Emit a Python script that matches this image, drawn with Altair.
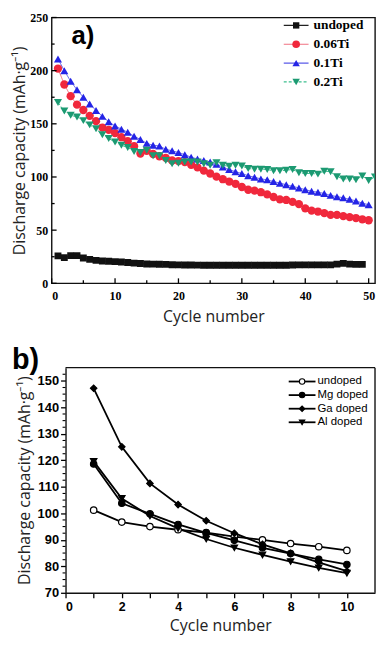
import altair as alt
import pandas as pd

# ---------------- Panel a data ----------------
names_a = ["undoped", "0.06Ti", "0.1Ti", "0.2Ti"]
cycles_undoped_a = list(range(1, 50))
undoped_a = [25.8, 24.2, 26.0, 26.0, 23.8, 22.5, 21.6, 21.0, 20.7, 20.4,
             20.0, 19.6, 19.0, 18.6, 18.2, 18.0, 17.9, 17.8, 17.5, 17.3,
             17.2, 17.2, 17.1, 17.0, 17.0, 17.0, 17.0, 17.0, 17.0, 17.0,
             17.0, 17.0, 17.0, 17.0, 17.0, 17.0, 17.0, 17.2, 17.3, 17.4,
             17.4, 17.4, 17.4, 17.4, 18.0, 18.8, 18.0, 17.8, 17.8]
cycles_006_a = list(range(1, 51))
ti006_a = [202, 187, 176, 168, 163, 157.5, 152.5, 146.5, 144.4, 141.3,
           137.4, 133.7, 129, 122, 124.5, 121.6, 119.5, 118, 115.5, 115,
           114, 111.5, 109, 106, 103.3, 100.3, 97.9, 95.7, 93.6, 90.6,
           88, 87.2, 85.7, 83.6, 81.2, 79, 78.4, 76.6, 74.5, 70.5,
           68.4, 67.5, 66, 64.4, 64.4, 63.2, 62.3, 61.4, 60.2, 59.3]
cycles_01_a = list(range(1, 51))
ti01_a = [211, 200, 190, 182, 175, 168.7, 162.6, 157, 152, 148,
          145, 142, 138.3, 135.3, 131.6, 129.8, 129.2, 126, 124.6, 123,
          121, 118.5, 117, 115.5, 114, 111.9, 109.4, 107, 104.9, 103.3,
          101.2, 99.7, 98.2, 97.3, 95.7, 94.2, 92.7, 91.2, 89.7, 88.1,
          86.6, 85.7, 84.5, 82.7, 81.5, 80.5, 79, 77.5, 75.4, 73.9]
cycles_02_a = list(range(1, 52))
ti02_a = [170, 162, 158, 156.5, 153, 149, 145.3, 139.8, 136.2, 132.8,
          129.8, 127.7, 124, 123, 125.2, 120, 120, 115.5, 112.5, 113,
          114, 114, 114, 112.5, 111, 113.4, 111, 110, 111, 110.3,
          108, 107.3, 107.3, 107, 105.8, 105.8, 106.4, 107, 104, 103.3,
          103.3, 102.7, 105.5, 104.9, 100.3, 98.2, 98.2, 97.3, 101, 96.7,
          100]

# ---------------- Panel b data ----------------
names_b = ["undoped", "Mg doped", "Ga doped", "Al doped"]
cycles_b = list(range(1, 11))
undoped_b = [101.2, 96.7, 95.0, 93.8, 92.7, 91.2, 90.0, 88.6, 87.4, 86.0]
mg_b = [118.6, 103.8, 99.8, 95.8, 92.6, 89.8, 87.0, 84.8, 82.6, 80.7]
ga_b = [147.2, 125.1, 111.3, 103.3, 97.2, 92.5, 88.3, 84.9, 81.5, 78.2]
al_b = [119.6, 105.6, 99.0, 94.3, 90.3, 87.0, 84.3, 81.8, 79.4, 77.4]

# ticks
xmajor_a = list(range(0, 60, 10))
xminor_a = list(range(5, 50, 10))
ymajor_a = list(range(0, 300, 50))
yminor_a = list(range(25, 250, 50))
ymajor_b = list(range(70, 160, 10))
yminor_b = [72.5, 75, 77.5, 82.5, 85, 87.5, 92.5, 95, 97.5, 102.5, 105, 107.5,
            112.5, 115, 117.5, 122.5, 125, 127.5, 132.5, 135, 137.5, 142.5, 145,
            147.5, 152.5]
xticks_b = list(range(0, 11, 1))

# styles
marker_colors_a = ["#111111", "#f0283c", "#2424e6", "#1c9a72"]
line_colors_a = ["#222222", "#f07080", "#5a5ae8", "#3cbf8e"]
line_dash_a = [[1, 0], [1, 0], [1, 0], [3, 2]]
shapes_a = ["square", "circle", "triangle-up", "triangle-down"]
sizes_a = [48, 70, 66, 66]
shapes_b = ["circle", "circle", "diamond", "triangle-down"]
fills_b = ["white", "black", "black", "black"]

YTITLE = "Discharge capacity (mAh\u00b7g\u207b\u00b9)"


def long_df(names, xs_list, ys_list):
    rows = []
    for n, xs, ys in zip(names, xs_list, ys_list):
        for x, y in zip(xs, ys):
            rows.append({"series": n, "cycle": x, "cap": y})
    return pd.DataFrame(rows)


df_a = long_df(names_a, [cycles_undoped_a, cycles_006_a, cycles_01_a, cycles_02_a],
               [undoped_a, ti006_a, ti01_a, ti02_a])
df_b = long_df(names_b, [cycles_b] * 4, [undoped_b, mg_b, ga_b, al_b])

# ---------------- Panel a ----------------
WA, HA = 326, 268
xa = alt.X("cycle:Q", scale=alt.Scale(domain=[0, 51], nice=False),
           axis=alt.Axis(title="Cycle number", values=xmajor_a, labelOverlap=False,
                         tickSize=0, domain=False, grid=False,
                         labelFont="Liberation Serif", labelFontWeight="bold",
                         labelFontSize=12, labelColor="black", labelPadding=7,
                         titleFont="Open Sans", titleFontSize=16,
                         titleFontWeight="normal", titleColor="#222222",
                         titlePadding=7))
ya = alt.Y("cap:Q", scale=alt.Scale(domain=[0, 250], nice=False),
           axis=alt.Axis(title=YTITLE, values=ymajor_a, labelOverlap=False,
                         tickSize=0, domain=False, grid=False,
                         labelFont="Liberation Serif", labelFontWeight="bold",
                         labelFontSize=12, labelColor="black", labelPadding=4,
                         titleFont="Open Sans", titleFontSize=16,
                         titleFontWeight="normal", titleColor="#222222",
                         titlePadding=2))

lines_a = []
points_a = []
for i, n in enumerate(names_a):
    sub = alt.Chart(df_a).transform_filter(alt.datum.series == n)
    lines_a.append(sub.mark_line(strokeWidth=1, color=line_colors_a[i],
                                 strokeDash=line_dash_a[i], clip=True).encode(x=xa, y=ya))
for i, n in enumerate(names_a):
    sub = alt.Chart(df_a).transform_filter(alt.datum.series == n)
    points_a.append(sub.mark_point(filled=True, size=sizes_a[i], shape=shapes_a[i],
                                   color=marker_colors_a[i], opacity=1, clip=True).encode(
        x=xa, y=ya))

# inward ticks of panel a (positions through the scales)
ticks_a = [
    alt.Chart(pd.DataFrame({"cycle": xmajor_a})).mark_rule(color="black", strokeWidth=1.3).encode(
        x=xa, y=alt.value(HA), y2=alt.value(HA - 5)),
    alt.Chart(pd.DataFrame({"cycle": xminor_a})).mark_rule(color="black", strokeWidth=1.3).encode(
        x=xa, y=alt.value(HA), y2=alt.value(HA - 3)),
    alt.Chart(pd.DataFrame({"cap": ymajor_a})).mark_rule(color="black", strokeWidth=1.3).encode(
        y=ya, x=alt.value(0), x2=alt.value(5)),
    alt.Chart(pd.DataFrame({"cap": yminor_a})).mark_rule(color="black", strokeWidth=1.3).encode(
        y=ya, x=alt.value(0), x2=alt.value(3)),
]

leg_layers_a = []
for i, n in enumerate(names_a):
    ld = pd.DataFrame({"s": [n]})
    yy = 8 + 19 * i
    leg_layers_a.append(alt.Chart(ld).mark_rule(color=line_colors_a[i], strokeWidth=1.2,
                                                strokeDash=line_dash_a[i]).encode(
        x=alt.value(234), x2=alt.value(259), y=alt.value(yy)))
    leg_layers_a.append(alt.Chart(ld).mark_point(shape=shapes_a[i], filled=True,
                                                 size=sizes_a[i] * 0.85,
                                                 color=marker_colors_a[i], opacity=1).encode(
        x=alt.value(246.5), y=alt.value(yy)))
    leg_layers_a.append(alt.Chart(ld).mark_text(align="left", baseline="middle",
                                                font="Liberation Serif", fontWeight="bold",
                                                fontSize=13.5, color="black").encode(
        x=alt.value(264), y=alt.value(yy), text="s:N"))

label_a = alt.Chart(pd.DataFrame({"t": ["a)"]})).mark_text(
    align="left", baseline="middle", font="Liberation Sans", fontWeight="bold",
    fontSize=26, color="black").encode(x=alt.value(20), y=alt.value(19), text="t:N")

panel_a = alt.layer(*lines_a, *points_a, *ticks_a, *leg_layers_a, label_a).properties(
    width=WA, height=HA, view=alt.ViewBackground(stroke="#111111", strokeWidth=1.4))

# ---------------- Panel b ----------------
DB = 14          # inset of panel b's plot area inside its group
WB, HB = 312, 227
xb = alt.X("cycle:Q", scale=alt.Scale(domain=[0, 11], nice=False, range=[DB, DB + WB]),
           axis=alt.Axis(title="Cycle number", values=xticks_b,
                         labelExpr="datum.value % 2 == 0 ? datum.label : ''",
                         labelOverlap=False,
                         tickSize=5, domain=True, domainColor="#111111", domainWidth=1.4,
                         tickColor="black", tickWidth=1.3,
                         grid=False, labelFont="Liberation Sans", labelFontWeight="bold",
                         labelFontSize=12.5, labelColor="black", labelPadding=3,
                         titleFont="Open Sans", titleFontSize=16,
                         titleFontWeight="normal", titleColor="#222222",
                         titlePadding=5))
yb = alt.Y("cap:Q", scale=alt.Scale(domain=[70, 155], nice=False),
           axis=alt.Axis(title=YTITLE, values=ymajor_b, offset=-DB, labelOverlap=False,
                         tickSize=5, domain=True, domainColor="#111111", domainWidth=1.4,
                         tickColor="black", tickWidth=1.3,
                         grid=False, labelFont="Liberation Sans", labelFontWeight="bold",
                         labelFontSize=13, labelColor="black", labelPadding=2,
                         titleFont="Open Sans", titleFontSize=16,
                         titleFontWeight="normal", titleColor="#222222",
                         titlePadding=5))

lines_b = alt.Chart(df_b).mark_line(strokeWidth=1.8, color="black").encode(
    x=xb, y=yb, detail="series:N")

points_b = []
for i, n in enumerate(names_b):
    points_b.append(alt.Chart(df_b).transform_filter(alt.datum.series == n).mark_point(
        filled=True, size=42, shape=shapes_b[i], fill=fills_b[i], stroke="black",
        strokeWidth=1.2, opacity=1).encode(x=xb, y=yb))

minor_b = alt.Chart(pd.DataFrame({"cap": yminor_b})).mark_rule(color="black", strokeWidth=1.1).encode(
    y=yb, x=alt.value(DB - 3), x2=alt.value(DB))

frame_b = [
    alt.Chart(pd.DataFrame({"f": [0]})).mark_rule(color="#111111", strokeWidth=1.4).encode(
        x=alt.value(DB), x2=alt.value(DB + WB), y=alt.value(0)),
    alt.Chart(pd.DataFrame({"f": [0]})).mark_rule(color="#111111", strokeWidth=1.4).encode(
        x=alt.value(DB + WB), y=alt.value(0), y2=alt.value(HB)),
]

leg_layers_b = []
for i, n in enumerate(names_b):
    ld = pd.DataFrame({"s": [n]})
    yy = 14 + 13.7 * i
    leg_layers_b.append(alt.Chart(ld).mark_rule(color="black", strokeWidth=1.8).encode(
        x=alt.value(239), x2=alt.value(266), y=alt.value(yy)))
    leg_layers_b.append(alt.Chart(ld).mark_point(shape=shapes_b[i], filled=True, size=30,
                                                 fill=fills_b[i], stroke="black", strokeWidth=1.1,
                                                 opacity=1).encode(
        x=alt.value(252.5), y=alt.value(yy)))
    leg_layers_b.append(alt.Chart(ld).mark_text(align="left", baseline="middle",
                                                font="Liberation Sans", fontSize=11.5,
                                                color="black").encode(
        x=alt.value(268), y=alt.value(yy), text="s:N"))

label_b = alt.Chart(pd.DataFrame({"t": ["b)"]})).mark_text(
    align="left", baseline="middle", font="Liberation Sans", fontWeight="bold",
    fontSize=29, color="black").encode(x=alt.value(-40), y=alt.value(-8), text="t:N")

panel_b = alt.layer(lines_b, *points_b, minor_b, *frame_b, *leg_layers_b, label_b).properties(
    width=DB + WB, height=HB, view=alt.ViewBackground(strokeOpacity=0))

chart = alt.vconcat(panel_a, panel_b, spacing=21).properties(
    padding={"left": 3, "top": 0, "right": 0, "bottom": 0},
    background="white")

chart.save("out.html", embed_options={"renderer": "svg", "actions": False})
